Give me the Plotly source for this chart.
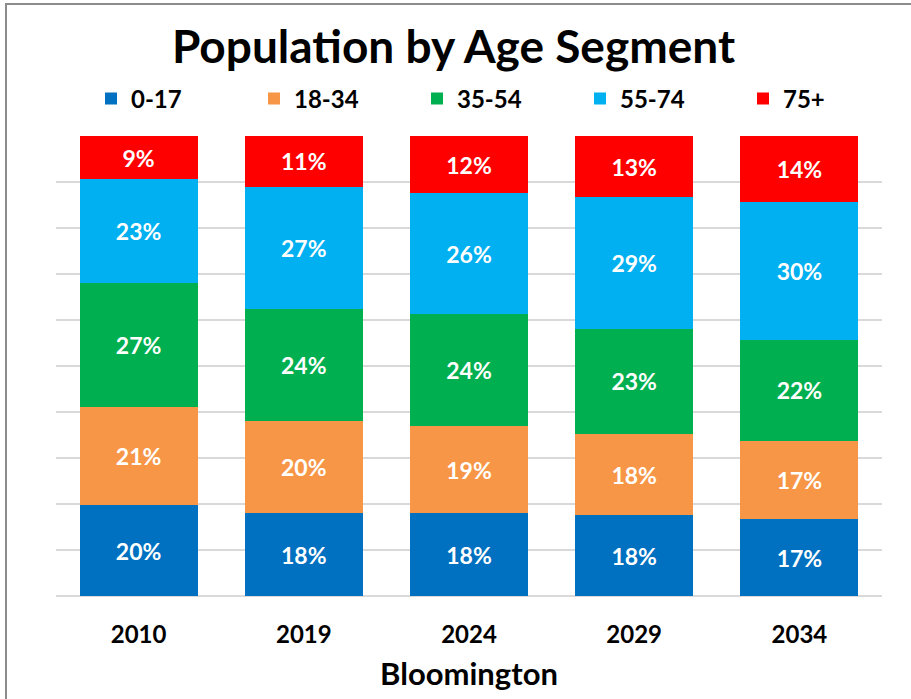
import plotly.graph_objects as go

years = ["2010", "2019", "2024", "2029", "2034"]
seg_names = ["0-17", "18-34", "35-54", "55-74", "75+"]
age_0_17 = [19.7, 18.0, 18.0, 17.6, 16.7]
age_18_34 = [21.3, 20.0, 18.9, 17.6, 17.0]
age_35_54 = [27.0, 24.3, 24.3, 22.9, 22.0]
age_55_74 = [22.6, 26.7, 26.4, 28.6, 30.0]
age_75_plus = [9.4, 11.0, 12.4, 13.3, 14.3]
colors = ["#0070C0", "#F79646", "#00B050", "#00B0F0", "#FF0000"]

FONT = "Lato"
series = [age_0_17, age_18_34, age_35_54, age_55_74, age_75_plus]

fig = go.Figure()
for name, vals, col in zip(seg_names, series, colors):
    fig.add_trace(go.Bar(
        x=years, y=vals, name=name,
        marker=dict(color=col, line=dict(width=0)),
        texttemplate="%{y:.0f}%", textposition="inside",
        insidetextanchor="middle",
        textfont=dict(family=FONT, size=23, color="white", weight=700),
        constraintext="none",
    ))

W, H = 911, 699
L, R, T, B = 56, 29, 136, 103
pw, ph = W - L - R, H - T - B

fig.update_layout(
    width=W, height=H,
    margin=dict(l=L, r=R, t=T, b=B, autoexpand=False),
    barmode="stack", bargap=0.285,
    paper_bgcolor="white", plot_bgcolor="white",
    title=dict(text="Population by Age Segment", x=453.5 / W, xanchor="center",
               xref="container", yref="container", y=1 - 47 / H, yanchor="middle",
               font=dict(family=FONT, size=46, color="black", weight=700)),
    legend=dict(orientation="h", xref="container", yref="container",
                x=(114 - 23) / W, xanchor="left", y=1 - 99 / H, yanchor="middle",
                font=dict(family=FONT, size=24, color="black", weight=700),
                traceorder="normal", entrywidth=118, entrywidthmode="pixels",
                itemwidth=30, bgcolor="rgba(0,0,0,0)"),
    xaxis=dict(showline=False, ticks="", showgrid=False,
               tickfont=dict(family=FONT, size=24, color="black", weight=700),
               ticklabelstandoff=22,
               title=dict(text="Bloomington", standoff=16,
                          font=dict(family=FONT, size=31, color="black", weight=700))),
    yaxis=dict(range=[0, 100], dtick=10, showticklabels=False, showgrid=True,
               gridcolor="#D9D9D9", gridwidth=1.5, zeroline=True,
               zerolinecolor="#D9D9D9", zerolinewidth=1.5, showline=False),
    shapes=[dict(type="rect", xref="paper", yref="paper",
                 x0=(6 - L) / pw, x1=1.3, y0=-0.5, y1=(H - B - 4) / ph,
                 line=dict(color="#8C8C8C", width=2), fillcolor="rgba(0,0,0,0)",
                 layer="below")],
)

fig.write_html("out.html", config={"displayModeBar": False},
               post_script="document.body.style.margin='0';")
